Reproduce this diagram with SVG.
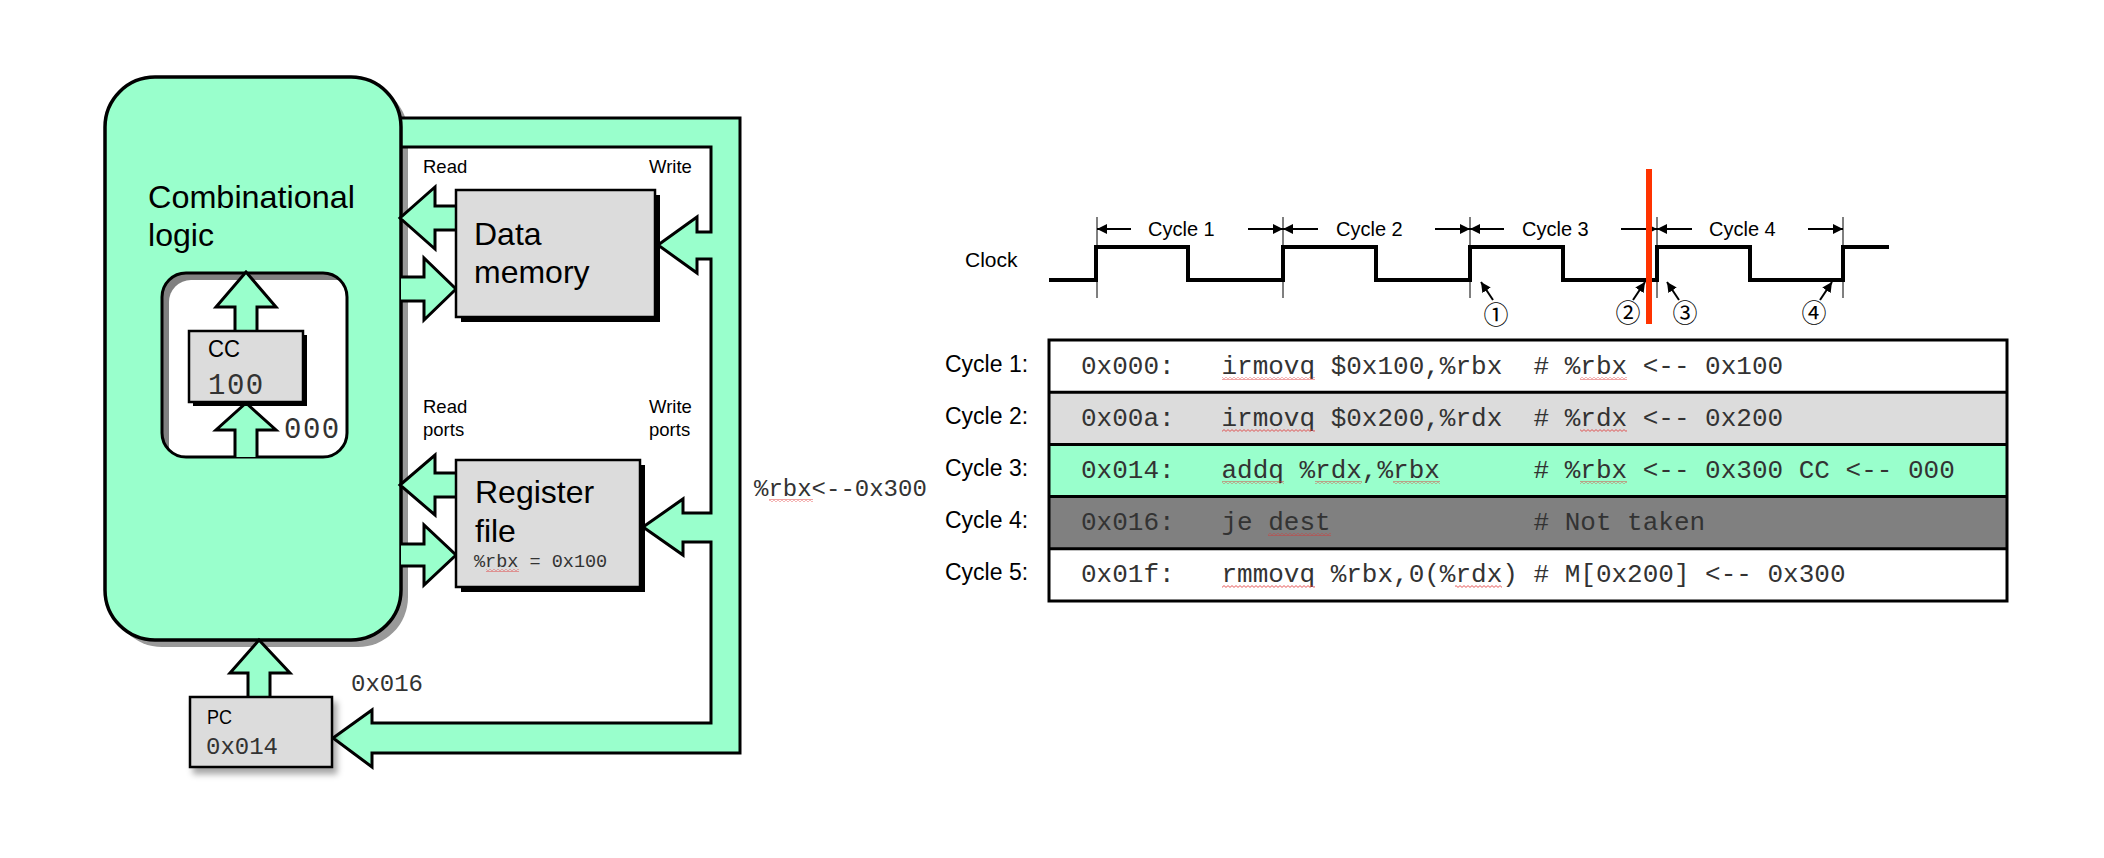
<svg xmlns="http://www.w3.org/2000/svg" width="2104" height="858" viewBox="0 0 2104 858">
  <style>
    .sans { font-family: "Liberation Sans", Arial, sans-serif; fill: #000; }
    .mono { font-family: "Liberation Mono", "Courier New", monospace; fill: #333; }
    .code { white-space: pre; }
    .arrow { fill: #99ffcc; stroke: #000; stroke-width: 3; stroke-linejoin: miter; }
    .box { fill: #dcdcdc; stroke: #000; stroke-width: 2.5; }
    .tick { stroke: #000; stroke-width: 1; }
    .dim { stroke: #000; stroke-width: 2; }
    .circ { font-family: "Noto Sans CJK JP", "DejaVu Sans", sans-serif; font-size: 25px; text-anchor: middle; fill: #000; }
  </style>
  <defs>
    <pattern id="squiggle" width="4" height="3" patternUnits="userSpaceOnUse">
      <path d="M0,0.6 L2,2.4 L4,0.6" fill="none" stroke="#e03030" stroke-width="0.8"/>
    </pattern>
    <marker id="head" viewBox="0 0 10 10" refX="10" refY="5" markerWidth="10" markerHeight="10" markerUnits="userSpaceOnUse" orient="auto">
      <path d="M0,0 L10,5 L0,10 Z" fill="#000"/>
    </marker>
    <filter id="soft" x="-20%" y="-20%" width="150%" height="160%">
      <feDropShadow dx="4" dy="6" stdDeviation="3" flood-color="#000" flood-opacity="0.35"/>
    </filter>
    <clipPath id="ccClip">
      <rect x="162" y="273" width="185" height="184" rx="24"/>
    </clipPath>
  </defs>

  <rect width="2104" height="858" fill="#fff"/>

  <!-- shadow of the combinational logic block -->
  <g id="comb-logic-shadow">
    <rect x="112" y="84" width="296" height="563" rx="50" fill="#999"/>
  </g>

  <!-- connectors: feedback bus and port arrows -->
  <g id="connectors">
    <path class="arrow" stroke-width="3.5" d="M401,118 H740 V753 H372 V767 L333,738 L372,710 V723 H711 V542 H683 V555 L643,527 L683,499 V513 H711 V259 H697 V273 L658,245 L697,217 V232 H711 V147 H401"/>
  </g>

  <g id="comb-logic">
    <rect x="105" y="77" width="296" height="563" rx="50" fill="#99ffcc" stroke="#000" stroke-width="3.5"/>
    <text class="sans" x="148" y="208" font-size="32" textLength="207" lengthAdjust="spacingAndGlyphs">Combinational</text>
    <text class="sans" x="148" y="246" font-size="32" textLength="66" lengthAdjust="spacingAndGlyphs">logic</text>
  </g>

  <!-- condition-code register inside the logic block -->
  <g id="cc">
    <rect x="162" y="273" width="185" height="184" rx="24" fill="#808080"/>
    <rect x="169" y="280" width="200" height="200" rx="22" fill="#fff" clip-path="url(#ccClip)"/>
    <rect x="162" y="273" width="185" height="184" rx="24" fill="none" stroke="#000" stroke-width="3"/>
    <path class="arrow" d="M235,331 V307 H216 L246,272 L276,307 H257 V331"/>
    <path class="arrow" d="M235,457 V430 H216 L246,403 L276,430 H257 V457"/>
    <rect x="193" y="335" width="114" height="71" fill="#000"/>
    <rect class="box" x="189" y="331" width="114" height="71"/>
    <text class="sans" x="208" y="357" font-size="24" textLength="32" lengthAdjust="spacingAndGlyphs">CC</text>
    <text class="mono" x="208" y="394" font-size="29" letter-spacing="1.5" fill="#444">100</text>
    <text class="mono" x="284" y="438" font-size="29" letter-spacing="1.5" fill="#444">000</text>
  </g>

  <!-- port arrows between the logic and the storage blocks -->
  <g id="port-arrows">
    <path class="arrow" d="M456,206 H435 V187 L400,218 L435,249 V230 H456"/>
    <path class="arrow" d="M401,277 H424 V258 L456,289 L424,320 V301 H401"/>
    <path class="arrow" d="M456,473 H435 V455 L400,485 L435,515 V497 H456"/>
    <path class="arrow" d="M401,544 H424 V525 L456,555 L424,585 V566 H401"/>
    <path class="arrow" d="M248,697 V673 H230 L259,640 L290,673 H270 V697"/>
  </g>

  <g id="labels">
    <text class="sans" x="423" y="173" font-size="18.5">Read</text>
    <text class="sans" x="649" y="173" font-size="18.5">Write</text>
    <text class="sans" x="423" y="413" font-size="18.5">Read</text>
    <text class="sans" x="423" y="436" font-size="18.5">ports</text>
    <text class="sans" x="649" y="413" font-size="18.5">Write</text>
    <text class="sans" x="649" y="436" font-size="18.5">ports</text>
  </g>

  <g id="data-memory">
    <rect x="461" y="195" width="199" height="127" fill="#000"/>
    <rect class="box" x="456" y="190" width="199" height="127"/>
    <text class="sans" x="474" y="245" font-size="32">Data</text>
    <text class="sans" x="474" y="283" font-size="32">memory</text>
  </g>

  <g id="register-file">
    <rect x="461" y="465" width="184" height="127" fill="#000"/>
    <rect class="box" x="456" y="460" width="184" height="127"/>
    <text class="sans" x="475" y="503" font-size="32">Register</text>
    <text class="sans" x="475" y="542" font-size="32">file</text>
    <text class="mono" x="474" y="567" font-size="18.5">%rbx = 0x100</text>
    <rect x="486" y="569" width="33" height="3" fill="url(#squiggle)"/>
  </g>

  <g id="pc">
    <rect class="box" x="190" y="697" width="142" height="70" filter="url(#soft)"/>
    <text class="sans" x="207" y="724" font-size="20" textLength="25" lengthAdjust="spacingAndGlyphs">PC</text>
    <text class="mono" x="206" y="754" font-size="24">0x014</text>
  </g>

  <g id="bus-values">
    <text class="mono" x="351" y="691" font-size="24">0x016</text>
    <text class="mono" x="754" y="496" font-size="24">%rbx&lt;--0x300</text>
    <rect x="769" y="499" width="44" height="3" fill="url(#squiggle)"/>
  </g>

  <!-- clock waveform -->
  <g id="clock">
    <text class="sans" x="965" y="267" font-size="21">Clock</text>
    <path d="M1049,280 H1096 V247 H1188 V280 H1283 V247 H1376 V280 H1470 V247 H1563 V280 H1657 V247 H1750 V280 H1843 V247 H1889" fill="none" stroke="#000" stroke-width="4"/>
    <line class="tick" x1="1097" y1="217" x2="1097" y2="298"/>
    <line class="tick" x1="1283" y1="217" x2="1283" y2="298"/>
    <line class="tick" x1="1470" y1="217" x2="1470" y2="298"/>
    <line class="tick" x1="1657" y1="217" x2="1657" y2="298"/>
    <line class="tick" x1="1843" y1="217" x2="1843" y2="298"/>

    <line class="dim" x1="1131" y1="229" x2="1097" y2="229" marker-end="url(#head)"/>
    <line class="dim" x1="1248" y1="229" x2="1283" y2="229" marker-end="url(#head)"/>
    <text class="sans" x="1148" y="236" font-size="20">Cycle 1</text>

    <line class="dim" x1="1318" y1="229" x2="1283" y2="229" marker-end="url(#head)"/>
    <line class="dim" x1="1435" y1="229" x2="1470" y2="229" marker-end="url(#head)"/>
    <text class="sans" x="1336" y="236" font-size="20">Cycle 2</text>

    <line class="dim" x1="1504" y1="229" x2="1470" y2="229" marker-end="url(#head)"/>
    <line class="dim" x1="1621" y1="229" x2="1657" y2="229" marker-end="url(#head)"/>
    <text class="sans" x="1522" y="236" font-size="20">Cycle 3</text>

    <line class="dim" x1="1692" y1="229" x2="1657" y2="229" marker-end="url(#head)"/>
    <line class="dim" x1="1808" y1="229" x2="1843" y2="229" marker-end="url(#head)"/>
    <text class="sans" x="1709" y="236" font-size="20">Cycle 4</text>

    <rect x="1646" y="169" width="6" height="155" fill="#ff3300"/>

    <line class="dim" x1="1493" y1="300" x2="1481" y2="282" marker-end="url(#head)"/>
    <line class="dim" x1="1633" y1="300" x2="1645" y2="282" marker-end="url(#head)"/>
    <line class="dim" x1="1679" y1="300" x2="1667" y2="282" marker-end="url(#head)"/>
    <line class="dim" x1="1820" y1="300" x2="1832" y2="282" marker-end="url(#head)"/>
    <text class="circ" x="1496" y="324">①</text>
    <text class="circ" x="1628" y="322">②</text>
    <text class="circ" x="1685" y="322">③</text>
    <text class="circ" x="1814" y="322">④</text>
  </g>

  <!-- instruction trace, one row per cycle -->
  <g id="trace">
    <rect x="1049" y="340" width="958" height="52.2" fill="#fff"/>
    <rect x="1049" y="392.2" width="958" height="52.2" fill="#dcdcdc"/>
    <rect x="1049" y="444.4" width="958" height="52.2" fill="#99ffcc"/>
    <rect x="1049" y="496.6" width="958" height="52.2" fill="#808080"/>
    <rect x="1049" y="548.8" width="958" height="52.2" fill="#fff"/>
    <g stroke="#000" stroke-width="3">
      <line x1="1049" y1="392.2" x2="2007" y2="392.2"/>
      <line x1="1049" y1="444.4" x2="2007" y2="444.4"/>
      <line x1="1049" y1="496.6" x2="2007" y2="496.6"/>
      <line x1="1049" y1="548.8" x2="2007" y2="548.8"/>
    </g>
    <rect x="1049" y="340" width="958" height="261" fill="none" stroke="#000" stroke-width="3"/>

    <text class="sans" x="945" y="372" font-size="23">Cycle 1:</text>
    <text class="sans" x="945" y="424" font-size="23">Cycle 2:</text>
    <text class="sans" x="945" y="476" font-size="23">Cycle 3:</text>
    <text class="sans" x="945" y="528" font-size="23">Cycle 4:</text>
    <text class="sans" x="945" y="580" font-size="23">Cycle 5:</text>

    <g class="mono" font-size="26">
      <text class="code" xml:space="preserve" x="1081" y="374">0x000:   irmovq $0x100,%rbx  # %rbx &lt;-- 0x100</text>
      <text class="code" xml:space="preserve" x="1081" y="426">0x00a:   irmovq $0x200,%rdx  # %rdx &lt;-- 0x200</text>
      <text class="code" xml:space="preserve" x="1081" y="478">0x014:   addq %rdx,%rbx      # %rbx &lt;-- 0x300 CC &lt;-- 000</text>
      <text class="code" xml:space="preserve" x="1081" y="530">0x016:   je dest             # Not taken</text>
      <text class="code" xml:space="preserve" x="1081" y="582">0x01f:   rmmovq %rbx,0(%rdx) # M[0x200] &lt;-- 0x300</text>
    </g>

    <g fill="url(#squiggle)">
      <rect x="1222" y="377" width="93" height="3"/>
      <rect x="1580" y="377" width="47" height="3"/>
      <rect x="1222" y="429" width="93" height="3"/>
      <rect x="1580" y="429" width="47" height="3"/>
      <rect x="1222" y="481" width="62" height="3"/>
      <rect x="1315" y="481" width="47" height="3"/>
      <rect x="1393" y="481" width="47" height="3"/>
      <rect x="1580" y="481" width="47" height="3"/>
      <rect x="1268" y="533" width="63" height="3"/>
      <rect x="1222" y="585" width="93" height="3"/>
      <rect x="1455" y="585" width="47" height="3"/>
    </g>
  </g>
</svg>
